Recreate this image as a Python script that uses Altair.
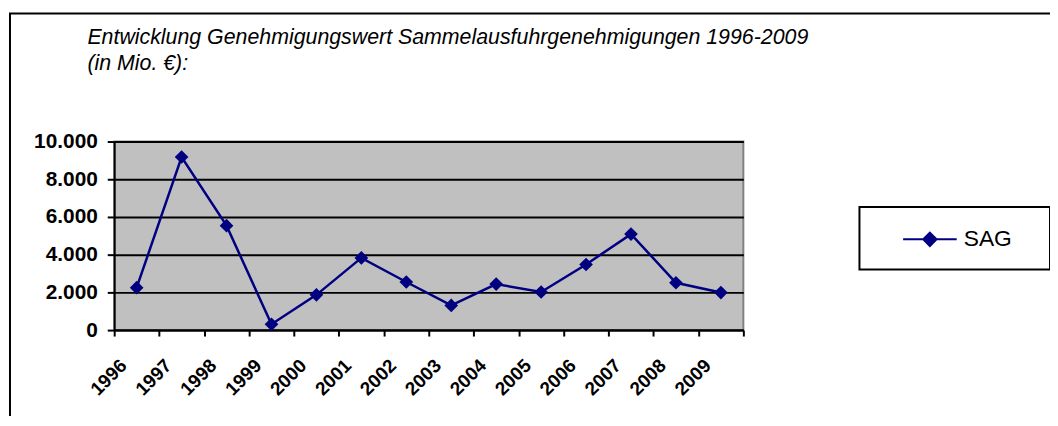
import altair as alt
import pandas as pd

years = ["1996", "1997", "1998", "1999", "2000", "2001", "2002",
         "2003", "2004", "2005", "2006", "2007", "2008", "2009"]
values = [2250, 9180, 5540, 310, 1870, 3830, 2550,
          1310, 2440, 2020, 3480, 5090, 2510, 1990]
series_name = ["SAG"] * len(years)
y_ticks = [0, 2000, 4000, 6000, 8000, 10000]
title_lines = ["Entwicklung Genehmigungswert Sammelausfuhrgenehmigungen 1996-2009",
               "(in Mio. €):"]

df = pd.DataFrame({"Jahr": years, "Wert": values, "Serie": series_name})

NAVY = "#000080"
FONT = "Liberation Sans"

x_enc = alt.X("Jahr:O", sort=years, title=None,
              scale=alt.Scale(paddingInner=0, paddingOuter=0),
              axis=alt.Axis(labelAngle=-45, tickBand="extent", tickSize=6,
                            tickColor="black", tickWidth=2, domainColor="black",
                            domainWidth=2, labelFont=FONT, labelFontWeight="bold",
                            labelFontSize=19, labelColor="black", labelPadding=20,
                            labelOffset=-20, grid=False))
y_enc = alt.Y("Wert:Q", title=None,
              scale=alt.Scale(domain=[0, 10000], nice=False),
              axis=alt.Axis(values=y_ticks, tickSize=7, tickColor="black", tickWidth=2,
                            domainColor="black", domainWidth=2,
                            grid=True, gridColor="black", gridWidth=2,
                            labelFont=FONT, labelFontWeight="bold", labelFontSize=21,
                            labelColor="black", labelPadding=10,
                            labelExpr="replace(format(datum.value, ','), ',', '.')"))

# legend glyph: line with a diamond, shifted right; invisible moves widen the box
legend_symbol = ("M-1,0M10.12,0"
                 "M0.85,0H4.85"
                 "M2.85,-0.5L3.35,0L2.85,0.5L2.35,0Z")

line = alt.Chart(df).mark_line(color=NAVY, strokeWidth=2.5).encode(x=x_enc, y=y_enc)
points = alt.Chart(df).mark_point(shape="diamond", filled=True, size=190, opacity=1).encode(
    x=x_enc, y=y_enc,
    color=alt.Color("Serie:N", scale=alt.Scale(domain=["SAG"], range=[NAVY]),
                    legend=alt.Legend(title=None, orient="none", legendX=751, legendY=66,
                                      symbolType=legend_symbol, symbolSize=729,
                                      symbolStrokeColor=NAVY, symbolStrokeWidth=2,
                                      symbolFillColor=NAVY,
                                      labelFont=FONT, labelFontSize=23, labelColor="black",
                                      labelOffset=58, padding=18,
                                      strokeColor="black", fillColor="white")))

frame = alt.Chart(alt.Data(values=[{}])).mark_rect(
    fill=None, stroke="black", strokeWidth=2, clip=False
).encode(x=alt.value(-105), x2=alt.value(1300), y=alt.value(-129), y2=alt.value(600))

chart = alt.layer(frame, line, points).properties(
    width=634, height=190,
    title=alt.TitleParams(text=title_lines, anchor="start", frame="group", dx=-27, offset=-62,
                          font=FONT, fontSize=21.5, fontStyle="italic", fontWeight="normal",
                          color="black", lineHeight=26),
    autosize=alt.AutoSizeParams(type="none"),
    padding={"left": 107, "top": 133, "right": 309, "bottom": 85},
    background="white",
).configure_view(fill="#C0C0C0", stroke="#808080", strokeWidth=2
).configure_legend(strokeWidth=2)

chart.save("out.html", embed_options={"renderer": "svg", "actions": False})
